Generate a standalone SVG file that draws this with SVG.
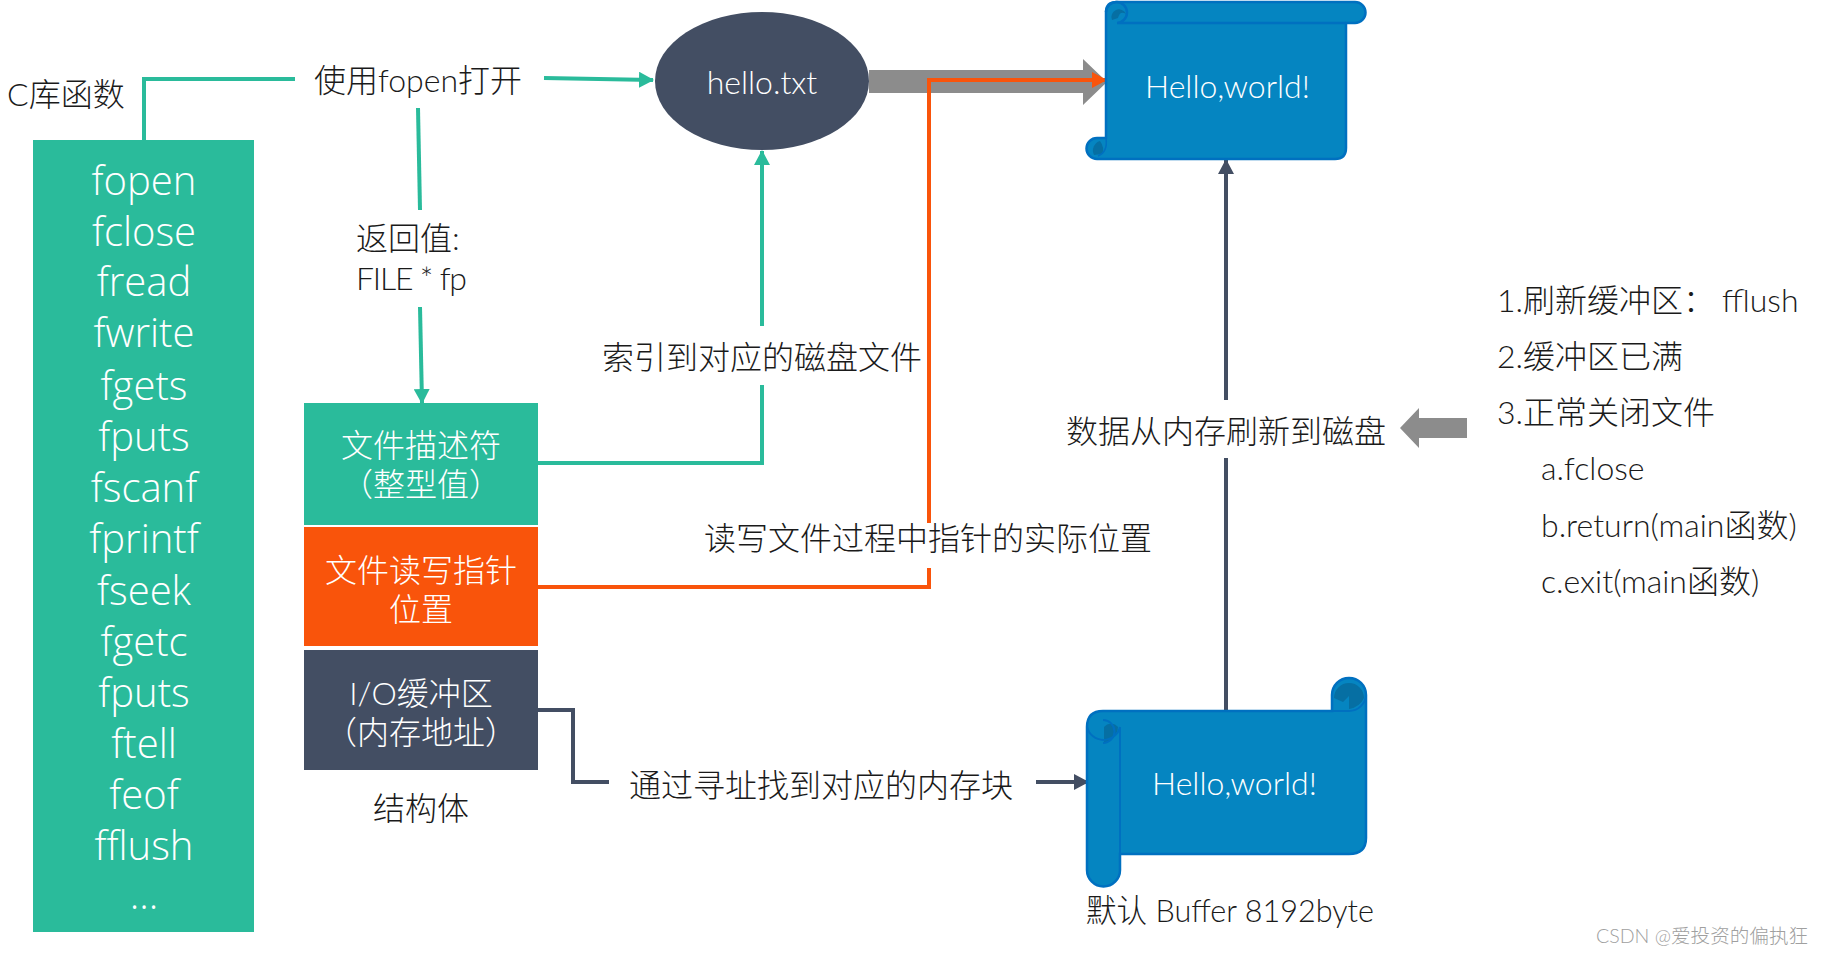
<svg xmlns="http://www.w3.org/2000/svg" width="1823" height="954" viewBox="0 0 1823 954">
<style>
text{font-family:"Lato","Noto Sans CJK SC",sans-serif;font-weight:300;font-size:32px;fill:#1a1a1a}
.w{fill:#fff}.c{text-anchor:middle}
.l{font-family:"Open Sans",sans-serif;font-size:40px;fill:#fff;text-anchor:middle}
.tl{stroke:#2abb9b;stroke-width:4;fill:none}
.or{stroke:#f9540b;stroke-width:4;fill:none}
.dk{stroke:#434e63;stroke-width:4;fill:none}
.sc{fill:#0585c1;stroke:#0070c0;stroke-width:2.5}
.cu{fill:#066fa3;stroke:none}
</style>
<defs>
<marker id="at" markerUnits="userSpaceOnUse" markerWidth="16" markerHeight="16" refX="14" refY="8" orient="auto"><path d="M0 0L15 8L0 16z" fill="#2abb9b"/></marker>
<marker id="ad" markerUnits="userSpaceOnUse" markerWidth="16" markerHeight="16" refX="14" refY="8" orient="auto"><path d="M0 0L15 8L0 16z" fill="#434e63"/></marker>
<marker id="ao" markerUnits="userSpaceOnUse" markerWidth="16" markerHeight="16" refX="14" refY="8" orient="auto"><path d="M0 0L15 8L0 16z" fill="#f9540b"/></marker>
</defs>
<g id="connectors">
<path class="tl" d="M144 140V79H295"/>
<path class="tl" marker-end="url(#at)" d="M544 78L653 80"/>
<path class="tl" d="M418 108L420 210"/>
<path class="tl" marker-end="url(#at)" d="M420 307L422 403"/>
<path class="tl" d="M538 463H762V385"/>
<path class="tl" marker-end="url(#at)" d="M762 326V151"/>
<path d="M869 70H1083V59L1107 82L1083 105V93H869z" fill="#8c8c8c"/>
<path class="or" d="M538 587H929V568"/>
<path class="or" marker-end="url(#ao)" d="M929 523V80H1106"/>
<path class="dk" d="M538 710H573V782H609"/>
<path class="dk" marker-end="url(#ad)" d="M1036 782H1088"/>
<path class="dk" d="M1226 712V458"/>
<path class="dk" marker-end="url(#ad)" d="M1226 400V160"/>
<path d="M1400 428L1419 408V418H1467V438H1419V448z" fill="#8c8c8c"/>
</g>
<g id="clib-label"><text x="7" y="106">C库函数</text></g>
<g id="clib-list">
<rect x="33" y="140" width="221" height="792" fill="#2abb9b"/>
<text class="l" x="144" y="195">fopen</text>
<text class="l" x="144" y="246">fclose</text>
<text class="l" x="144" y="296">fread</text>
<text class="l" x="144" y="347">fwrite</text>
<text class="l" x="144" y="400">fgets</text>
<text class="l" x="144" y="451">fputs</text>
<text class="l" x="144" y="502">fscanf</text>
<text class="l" x="144" y="553">fprintf</text>
<text class="l" x="144" y="605">fseek</text>
<text class="l" x="144" y="656">fgetc</text>
<text class="l" x="144" y="707">fputs</text>
<text class="l" x="144" y="758">ftell</text>
<text class="l" x="144" y="809">feof</text>
<text class="l" x="144" y="860">fflush</text>
<text class="l" x="144" y="909">...</text>
</g>
<g id="fopen-label"><text x="314" y="92">使用fopen打开</text></g>
<g id="return-label"><text x="356" y="250">返回值:</text><text x="356" y="290" textLength="111" lengthAdjust="spacing">FILE * fp</text></g>
<g id="fd"><rect x="304" y="403" width="234" height="122" fill="#2abb9b"/><text class="w c" x="421" y="457">文件描述符</text><text class="w c" x="421" y="496">（整型值）</text></g>
<g id="fp"><rect x="304" y="527" width="234" height="119" fill="#f9540b"/><text class="w c" x="421" y="582">文件读写指针</text><text class="w c" x="421" y="621">位置</text></g>
<g id="buf"><rect x="304" y="650" width="234" height="120" fill="#434e63"/><text class="w c" x="421" y="705">I/O缓冲区</text><text class="w c" x="421" y="744">（内存地址）</text></g>
<g id="struct-label"><text class="c" x="421" y="820">结构体</text></g>
<g id="hello-file"><ellipse cx="762" cy="81" rx="107" ry="69" fill="#434e63"/><text class="w c" x="762" y="94">hello.txt</text></g>
<g id="disk-scroll">
<path class="sc" d="M1106 138V12Q1106 2 1117 2H1355A10.500 10.500 0 0 1 1355 23H1346V148Q1346 159 1335 159H1097A10.500 10.500 0 0 1 1097 138z"/>
<path class="cu" d="M1112 20A7 7 0 1 1 1126 14Q1120 10 1118 18z"/>
<path class="cu" d="M1094 155A10 10 0 0 1 1100 141Q1105 148 1102 154z"/>
<path d="M1106 138Q1108 152 1098 156" fill="none" stroke="#0070c0" stroke-width="1.500"/>
<path d="M1106 12A10.500 10.500 0 1 1 1117 23H1346" fill="none" stroke="#0070c0" stroke-width="2.500"/>
<text class="w" x="1145" y="98">Hello,world!</text>
</g>
<g id="mem-scroll">
<path class="sc" d="M1103 711H1332V695A17 17 0 0 1 1366 695V838Q1366 854 1349 854H1120V870A16.500 16.500 0 0 1 1087 870V727Q1087 711 1103 711z"/>
<path class="cu" d="M1104 743V727A9 9 0 0 1 1118 727Q1117 739 1104 743z"/>
<path class="cu" d="M1334 698A15 15 0 1 1 1364 698Q1360 707 1349 709V696L1343 702z"/>
<path d="M1332 711H1349A17 17 0 0 0 1366 695M1087 727A17 17 0 0 0 1120 727M1120 727V854M1103 743A8 8 0 0 0 1103 720" fill="none" stroke="#0070c0" stroke-width="2"/>
<text class="w" x="1152" y="795">Hello,world!</text>
</g>
<g id="buffer-label"><text x="1086" y="922" textLength="288" lengthAdjust="spacingAndGlyphs">默认 Buffer 8192byte</text></g>
<g id="labels">
<text class="c" x="762" y="369">索引到对应的磁盘文件</text>
<text class="c" x="928" y="550">读写文件过程中指针的实际位置</text>
<text x="629" y="797">通过寻址找到对应的内存块</text>
<text x="1066" y="443">数据从内存刷新到磁盘</text>
</g>
<g id="flush-notes">
<text x="1497" y="312">1.刷新缓冲区：<tspan x="1722">fflush</tspan></text>
<text x="1497" y="368">2.缓冲区已满</text>
<text x="1497" y="424">3.正常关闭文件</text>
<text x="1541" y="480">a.fclose</text>
<text x="1541" y="537">b.return(main函数)</text>
<text x="1541" y="593">c.exit(main函数)</text>
</g>
<g id="watermark"><text x="1596" y="943" style="font-size:19.600px;fill:#a0a0a0">CSDN @爱投资的偏执狂</text></g>
</svg>
